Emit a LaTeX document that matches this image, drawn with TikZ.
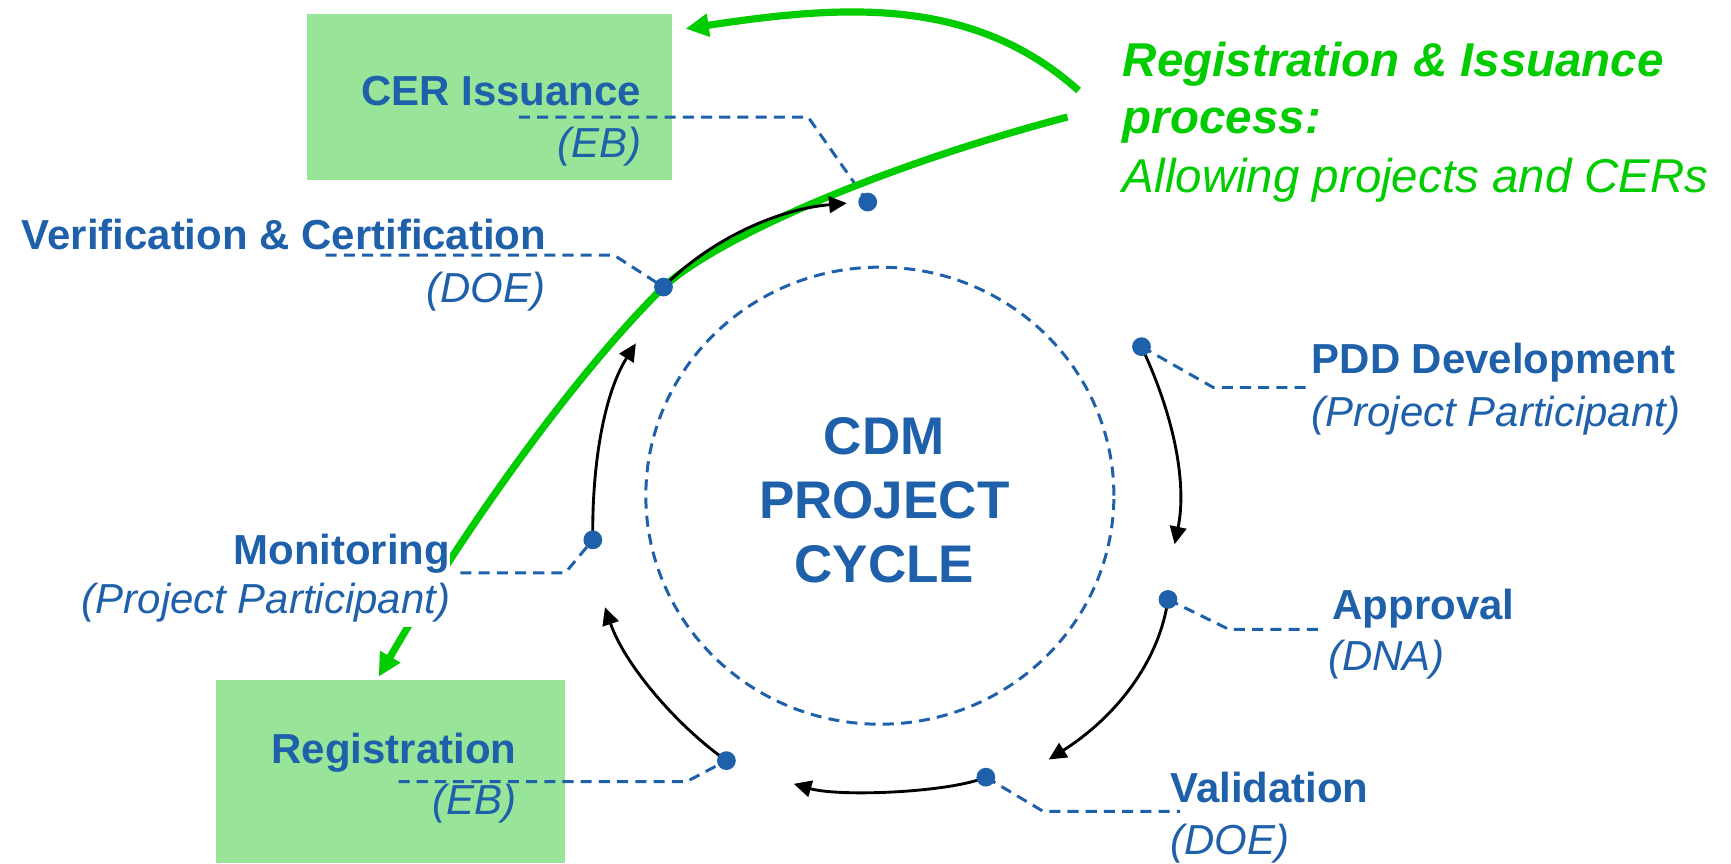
\documentclass[tikz,border=0pt]{standalone}
\usepackage{fontspec}
\setmainfont{Liberation Sans}
\usetikzlibrary{arrows.meta}
\definecolor{myblue}{RGB}{30,96,170}
\definecolor{mygreen}{RGB}{0,204,0}
\definecolor{boxgreen}{RGB}{152,228,152}
\begin{document}
\begin{tikzpicture}[x=1pt,y=-1pt,
  lbl/.style={font=\fontsize{38}{46}\selectfont\bfseries, text=myblue, inner sep=0pt},
  sub/.style={font=\fontsize{38}{46}\selectfont\itshape, text=myblue, inner sep=0pt},
  ctr/.style={font=\fontsize{48}{58}\selectfont\bfseries, text=myblue, inner sep=0pt, anchor=base},
  gtxt/.style={text=mygreen, inner sep=0pt, anchor=base west},
  bdot/.style={circle, fill=myblue, inner sep=0pt, minimum size=17pt},
  lead/.style={draw=myblue, line width=2.7pt, dash pattern=on 10pt off 6.5pt},
  arr/.style={draw=black, line width=2.6pt, -{Triangle[length=16pt,width=15pt]}},
  garr/.style={draw=mygreen, line width=6.5pt, -{Triangle[length=21pt,width=20pt]}},
  gbox/.style={fill=boxgreen, draw=none},
  hide/.style={fill=white, text height=35pt, text depth=11.5pt}
]
\useasboundingbox (0,0) rectangle (1568,782);
\fill[white] (0,0) rectangle (1568,782);

% green boxes
\path[gbox] (278,13) rectangle (609,163);
\path[gbox] (196,616) rectangle (512,782);

% central dashed circle
\draw[lead] (797,449) circle [x radius=212pt, y radius=207pt];

% dot positions
\coordinate (pcer) at (786,183);
\coordinate (pvc) at (601,260);
\coordinate (ppdd) at (1034,314);
\coordinate (pmon) at (537,489);
\coordinate (pap) at (1058,543);
\coordinate (pva) at (893,704);
\coordinate (preg) at (658,689);

% dashed leaders
\coordinate (lcer) at (470,106);
\coordinate (lvc) at (295,231);
\coordinate (lpdd) at (1185,351);
\coordinate (lmon) at (417,519);
\coordinate (lap) at (1200,570);
\coordinate (lva) at (1069,735);
\coordinate (lreg) at (361,708);
\draw[lead] (lcer) -- (732,106) -- (pcer);
\draw[lead] (lvc) -- (556,231) -- (pvc);
\draw[lead] (ppdd) -- (1099,351) -- (lpdd);
\draw[lead] (lmon) -- (512,519) -- (pmon);
\draw[lead] (pap) -- (1113,570) -- (lap);
\draw[lead] (pva) -- (945,735) -- (lva);
\draw[lead] (lreg) -- (622,708) -- (preg);

% green process curves
\coordinate (gs1) at (977,82);
\coordinate (ge1) at (621,26);
\coordinate (gs2) at (967,106);
\coordinate (ge2) at (343,613);
\draw[garr] (gs1) .. controls (880,-5) and (760,5) .. (ge1);
\draw[garr] (gs2) .. controls (800,150) and (650,215) .. (pvc)
  .. controls (520,340) and (420,480) .. (ge2);

% labels
\node[lbl, anchor=base east] (cerL) at (581,96) {CER Issuance};
\node[sub, anchor=base east] (cerS) at (581,143) {(EB)};
\node[lbl, anchor=base east] (vcL) at (495,226) {Verification \& Certification};
\node[sub, anchor=base east] (vcS) at (494,274) {(DOE)};
\node[lbl, anchor=base west] (pddL) at (1188,338) {PDD Development};
\node[sub, anchor=base west] (pddS) at (1188,386) {(Project Participant)};
\node[lbl, anchor=base east, hide] (monL) at (408,511) {Monitoring};
\node[sub, anchor=base east, hide] (monS) at (408,556) {(Project Participant)};
\node[lbl, anchor=base west] (apL) at (1207,561) {Approval};
\node[sub, anchor=base west] (apS) at (1203,607) {(DNA)};
\node[lbl, anchor=base west] (vaL) at (1060,727) {Validation};
\node[sub, anchor=base west] (vaS) at (1060,774) {(DOE)};
\node[lbl, anchor=base east] (reL) at (468,692) {Registration};
\node[sub, anchor=base east] (reS) at (468,738) {(EB)};

% centre title
\node[ctr] (c1) at (801,412) {CDM};
\node[ctr] (c2) at (801,470) {PROJECT};
\node[ctr] (c3) at (801,528) {CYCLE};

% green text
\node[gtxt, font=\fontsize{43}{52}\selectfont\bfseries\itshape] (g1) at (1017,69) {Registration \& Issuance};
\node[gtxt, font=\fontsize{43}{52}\selectfont\bfseries\itshape] (g2) at (1017,121) {process:};
\node[gtxt, font=\fontsize{43}{52}\selectfont\itshape] (g3) at (1017,174) {Allowing projects and CERs};

% cycle arrows
\coordinate (t1) at (1064,493);
\coordinate (t2) at (950,688);
\coordinate (t3) at (719,710);
\coordinate (t4) at (548,550);
\coordinate (t5) at (576,311);
\coordinate (t6) at (767,184);
\draw[arr] (ppdd) .. controls (1065,380) and (1075,440) .. (t1);
\draw[arr] (pap) .. controls (1050,600) and (1010,650) .. (t2);
\draw[arr] (pva) .. controls (860,718) and (760,722) .. (t3);
\draw[arr] (preg) .. controls (610,655) and (565,600) .. (t4);
\draw[arr] (pmon) .. controls (536,430) and (545,360) .. (t5);
\draw[arr] (pvc) .. controls (640,220) and (700,190) .. (t6);

% dots
\node[bdot] (cer) at (pcer) {};
\node[bdot] (vc) at (pvc) {};
\node[bdot] (pdd) at (ppdd) {};
\node[bdot] (mon) at (pmon) {};
\node[bdot] (ap) at (pap) {};
\node[bdot] (va) at (pva) {};
\node[bdot] (reg) at (preg) {};
\end{tikzpicture}
\end{document}
